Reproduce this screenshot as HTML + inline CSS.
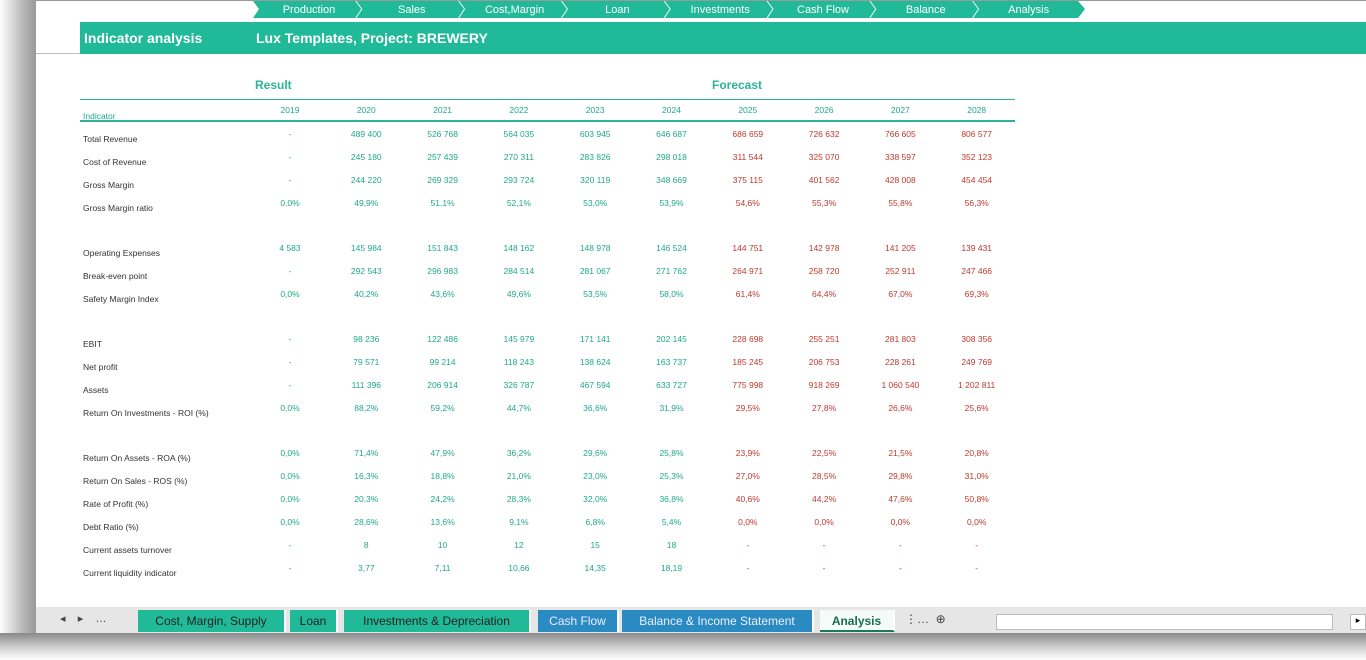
<!DOCTYPE html>
<html><head><meta charset="utf-8"><style>
body{margin:0;width:1366px;height:660px;overflow:hidden;background:#fff;font-family:"Liberation Sans Narrow","Liberation Sans",sans-serif;position:relative}
.abs{position:absolute;white-space:nowrap}
.v{font-size:8.5px;text-align:center;width:70px}
.lab{font-size:8.5px;color:#333;left:83px}
.g{color:#1fa98a}.r{color:#c0392b}
.tab{position:absolute;top:610px;height:22px;line-height:22px;font-size:12px;text-align:center;color:#222;border-right:2px solid #fff}
</style></head><body>
<div class="abs" style="left:0;top:0;width:36px;height:660px;background:linear-gradient(90deg,#fff,#bbb 60%,#999)"></div>
<div class="abs" style="left:0;top:633px;width:1366px;height:27px;background:linear-gradient(#888,#ccc 50%,#fff)"></div>
<div class="abs" style="left:36px;top:0;width:1330px;height:1px;background:#999"></div>
<svg class="abs" style="left:0;top:0" width="1366" height="60">
<polygon points="253,1 1078,1 1085,9 1078,18 253,18 259,9" fill="#21ba98"/>
<g id="seps" stroke="#e8fff8" stroke-width="1" fill="none"></g>
<g id="navtext" font-size="11" fill="#fff" text-anchor="middle"></g>
<rect x="80" y="22" width="1286" height="32" fill="#21ba98"/>
<rect x="36" y="53" width="44" height="1" fill="#bbb"/>
<text x="84" y="43" font-size="14" font-weight="bold" fill="#fff">Indicator analysis</text>
<text x="256" y="43" font-size="14" font-weight="bold" fill="#fff">Lux Templates, Project: BREWERY</text>
</svg>
<div class="abs" style="left:255px;top:78px;font-size:12px;font-weight:bold;color:#2bb598">Result</div>
<div class="abs" style="left:712px;top:78px;font-size:12px;font-weight:bold;color:#2bb598">Forecast</div>
<div class="abs" style="left:80px;top:99px;width:935px;height:1px;background:#2bb598"></div>
<div class="abs" style="left:80px;top:120px;width:935px;height:2px;background:#2bb598"></div>
<div class="abs lab g" style="top:111px">Indicator</div>
<div id="tbl"></div>
<div class="abs" style="left:36px;top:607px;width:1330px;height:26px;background:#e6e6e6"></div>
<div class="abs" style="left:60px;top:612px;font-size:11px;color:#444">◂ &nbsp;&nbsp; ▸ &nbsp;&nbsp; …</div>
<div class="tab" style="left:138px;width:146px;background:#21ba98">Cost, Margin, Supply</div>
<div class="tab" style="left:290px;width:46px;background:#21ba98">Loan</div>
<div class="tab" style="left:344px;width:185px;background:#21ba98">Investments &amp; Depreciation</div>
<div class="tab" style="left:538px;width:79px;background:#2a8bc3;color:#eef">Cash Flow</div>
<div class="tab" style="left:622px;width:190px;background:#2a8bc3;color:#eef">Balance &amp; Income Statement</div>
<div class="tab" style="left:820px;width:73px;background:#f4fbf9;font-weight:bold;color:#1a6b50;border-bottom:2px solid #1a7a5a;height:20px">Analysis</div>
<div class="abs" style="left:905px;top:612px;font-size:12px;color:#444">⋮… &nbsp;⊕</div>
<div class="abs" style="left:996px;top:614px;width:335px;height:14px;background:#fff;border:1px solid #bbb"></div>
<div class="abs" style="left:1350px;top:614px;width:14px;height:14px;background:#fff;border:1px solid #bbb;font-size:9px;text-align:center">▸</div>
<script>
const navItems=["Production","Sales","Cost,Margin","Loan","Investments","Cash Flow","Balance","Analysis"];
const years=["2019","2020","2021","2022","2023","2024","2025","2026","2027","2028"];
const labels=["Total Revenue","Cost of Revenue","Gross Margin","Gross Margin ratio","Operating Expenses","Break-even point","Safety Margin Index","EBIT","Net profit","Assets","Return On Investments - ROI (%)","Return On Assets - ROA (%)","Return On Sales - ROS (%)","Rate of Profit (%)","Debt Ratio (%)","Current assets turnover","Current liquidity indicator"];
const rowY=[133,156,179,202,247,270,293,338,361,384,407,452,475,498,521,544,567];
const values=[
["-","489 400","526 768","564 035","603 945","646 687","686 659","726 632","766 605","806 577"],
["-","245 180","257 439","270 311","283 826","298 018","311 544","325 070","338 597","352 123"],
["-","244 220","269 329","293 724","320 119","348 669","375 115","401 562","428 008","454 454"],
["0,0%","49,9%","51,1%","52,1%","53,0%","53,9%","54,6%","55,3%","55,8%","56,3%"],
["4 583","145 984","151 843","148 162","148 978","146 524","144 751","142 978","141 205","139 431"],
["-","292 543","296 983","284 514","281 067","271 762","264 971","258 720","252 911","247 466"],
["0,0%","40,2%","43,6%","49,6%","53,5%","58,0%","61,4%","64,4%","67,0%","69,3%"],
["-","98 236","122 486","145 979","171 141","202 145","228 698","255 251","281 803","308 356"],
["-","79 571","99 214","118 243","138 624","163 737","185 245","206 753","228 261","249 769"],
["-","111 396","206 914","326 787","467 594","633 727","775 998","918 269","1 060 540","1 202 811"],
["0,0%","88,2%","59,2%","44,7%","36,6%","31,9%","29,5%","27,8%","26,6%","25,6%"],
["0,0%","71,4%","47,9%","36,2%","29,6%","25,8%","23,9%","22,5%","21,5%","20,8%"],
["0,0%","16,3%","18,8%","21,0%","23,0%","25,3%","27,0%","28,5%","29,8%","31,0%"],
["0,0%","20,3%","24,2%","28,3%","32,0%","36,8%","40,6%","44,2%","47,6%","50,8%"],
["0,0%","28,6%","13,6%","9,1%","6,8%","5,4%","0,0%","0,0%","0,0%","0,0%"],
["-","8","10","12","15","18","-","-","-","-"],
["-","3,77","7,11","10,66","14,35","18,19","-","-","-","-"]];
const colX=i=>290+i*76.3;
const NS="http://www.w3.org/2000/svg";
const seps=document.getElementById('seps'),nt=document.getElementById('navtext');
navItems.forEach((n,i)=>{
 const x0=253+i*102.8;
 if(i>0){const p=document.createElementNS(NS,'polyline');p.setAttribute('points',`${x0},1 ${x0+6},9 ${x0},18`);seps.appendChild(p);}
 const t=document.createElementNS(NS,'text');t.setAttribute('x',x0+56);t.setAttribute('y',13);t.textContent=n;
 
 
 nt.appendChild(t);
});
const tbl=document.getElementById('tbl');
function add(txt,cls,x,y,name){const d=document.createElement('div');d.className='abs '+cls;d.style.left=x+'px';d.style.top=y+'px';d.textContent=txt;
 
 
 tbl.appendChild(d);}
years.forEach((y,i)=>add(y,'v g',colX(i)-35,105,'year-'+y));
labels.forEach((l,r)=>{
 add(l,'lab',83,rowY[r]+1,'label-'+r);
 values[r].forEach((v,i)=>add(v,'v '+(i<6?'g':'r'),colX(i)-35,rowY[r]-4,'value-'+r+'-'+years[i]));
});
</script>
</body></html>
